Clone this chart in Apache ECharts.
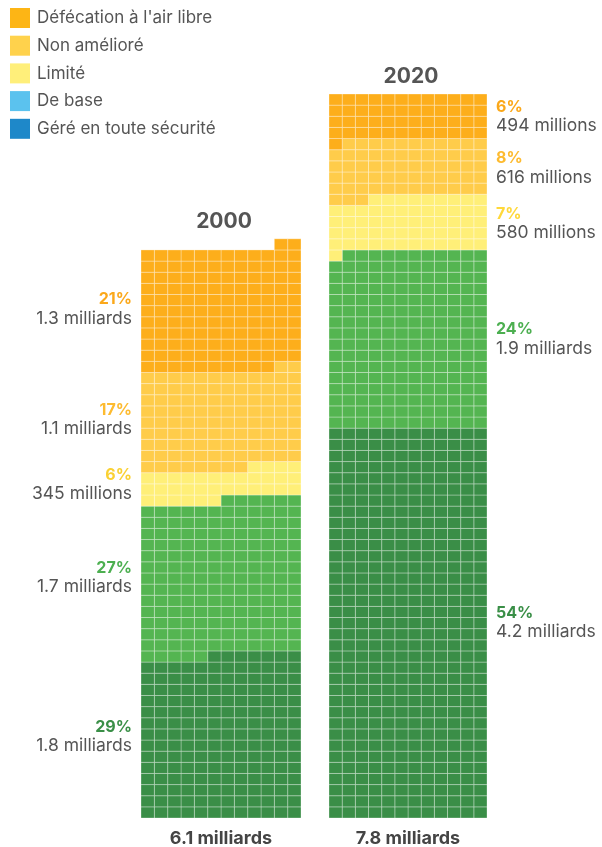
<!DOCTYPE html>
<html><head><meta charset="utf-8">
<script src="https://cdn.jsdelivr.net/npm/echarts@6/dist/echarts.min.js"></script>
<style>html,body{margin:0;padding:0;background:#fff}#c{width:602px;height:847px}</style>
</head><body><div id="c"></div>
<script>
// One cell = 10 millions de personnes; 12 cells per row
const COLS = 12;
const years = ['2000', '2020'];
const totals = ['6.1 milliards', '7.8 milliards'];
// Bottom to top
const categories = ['Géré en toute sécurité', 'De base', 'Limité', 'Non amélioré', "Défécation à l'air libre"];
const cells2000 = [175, 167, 34, 106, 132];
const cells2020 = [420, 191, 58, 62, 49];
const pct2000 = ['29%', '27%', '6%', '17%', '21%'];
const pct2020 = ['54%', '24%', '7%', '8%', '6%'];
const people2000 = ['1.8 milliards', '1.7 milliards', '345 millions', '1.1 milliards', '1.3 milliards'];
const people2020 = ['4.2 milliards', '1.9 milliards', '580 millions', '616 millions', '494 millions'];
// Legend (top to bottom)
const legendNames = ["Défécation à l'air libre", 'Non amélioré', 'Limité', 'De base', 'Géré en toute sécurité'];
const legendColors = ['#FDB515', '#FFD24C', '#FFEF7A', '#5BC2EE', '#1E88C9'];

const cellColors = ['#3A8E47', '#54B551', '#FFEF78', '#FFCC4A', '#FDAE1B'];
const pctColors = [['#3A8F47', '#4CAF50', '#FAD133', '#FDBB30', '#FBA81A'],
                   ['#3A8F47', '#4CAF50', '#FFD83A', '#FDBB30', '#FBA81A']];
const FONT = 'Inter, "Noto Sans", sans-serif';
const TEXT = '#555555';

const allCounts = [cells2000, cells2020];
const allPct = [pct2000, pct2020];
const allPeople = [people2000, people2020];
const sum = a => a.reduce((s, v) => s + v, 0);
const maxRows = Math.max(...allCounts.map(c => Math.ceil(sum(c) / COLS)));

function buildCells(counts) {
  const out = []; let i = 0;
  counts.forEach((n, k) => { for (let j = 0; j < n; j++, i++) out.push([COLS - 1 - (i % COLS), Math.floor(i / COLS), k]); });
  return out;
}
function buildLabels(counts, xAnchor) {
  const out = []; let s = 0;
  counts.forEach((n, k) => { out.push([xAnchor, (s + n / 2) / COLS, k]); s += n; });
  return out;
}

const grids = [
  { left: 141, width: 160, top: 94, height: 724 },
  { left: 329, width: 158, top: 94, height: 724 }
];

const series = [];
[0, 1].forEach(g => {
  series.push({
    type: 'custom', xAxisIndex: g, yAxisIndex: g, silent: true,
    data: buildCells(allCounts[g]),
    renderItem: (params, api) => {
      const c = api.value(0), r = api.value(1), k = api.value(2);
      const p0 = api.coord([c, r + 1]);
      const p1 = api.coord([c + 1, r]);
      return { type: 'rect', shape: { x: p0[0], y: p0[1], width: p1[0] - p0[0], height: p1[1] - p0[1] },
        style: { fill: cellColors[k], stroke: 'rgba(255,255,255,0.3)', lineWidth: 1 } };
    }
  });
  const right = g === 0;
  series.push({
    type: 'custom', xAxisIndex: g, yAxisIndex: g, silent: true,
    data: buildLabels(allCounts[g], right ? 0 : COLS),
    renderItem: (params, api) => {
      const k = api.value(2);
      const p = api.coord([api.value(0), api.value(1)]);
      const x = p[0] + (right ? -9 : 9);
      const align = right ? 'right' : 'left';
      return { type: 'group', children: [
        { type: 'text', x: x, y: p[1] - 10, style: { text: allPct[g][k], fill: pctColors[g][k], font: 'bold 16px ' + FONT, align: align, verticalAlign: 'middle' } },
        { type: 'text', x: x, y: p[1] + 9, style: { text: allPeople[g][k], fill: TEXT, font: '17.5px ' + FONT, align: align, verticalAlign: 'middle' } }
      ] };
    }
  });
  series.push({
    type: 'custom', xAxisIndex: g, yAxisIndex: g, silent: true,
    data: [[COLS / 2, Math.ceil(sum(allCounts[g]) / COLS)]],
    renderItem: (params, api) => {
      const top = api.coord([api.value(0), api.value(1)]);
      const bot = api.coord([api.value(0), 0]);
      return { type: 'group', children: [
        { type: 'text', x: top[0] + 3, y: top[1] - 17, style: { text: years[g], fill: TEXT, font: 'bold 21px ' + FONT, align: 'center', verticalAlign: 'middle' } },
        { type: 'text', x: bot[0], y: bot[1] + 21, style: { text: totals[g], fill: '#444', font: 'bold 18px ' + FONT, align: 'center', verticalAlign: 'middle' } }
      ] };
    }
  });
});
legendNames.forEach((name, i) => {
  series.push({ type: 'custom', name: name, data: [], xAxisIndex: 0, yAxisIndex: 0,
    itemStyle: { color: legendColors[i] }, renderItem: () => null });
});

const chart = echarts.init(document.getElementById('c'), null, { renderer: 'canvas' });
chart.setOption({
  backgroundColor: '#fff',
  animation: false,
  legend: {
    data: legendNames, orient: 'vertical', left: 5, top: 3, itemWidth: 20, itemHeight: 20, itemGap: 7.7,
    icon: 'rect', selectedMode: false,
    textStyle: { fontFamily: FONT, fontSize: 17, color: TEXT, padding: [0, 0, 0, 2] }
  },
  grid: grids,
  xAxis: grids.map((_, i) => ({ type: 'value', gridIndex: i, min: 0, max: COLS, show: false })),
  yAxis: grids.map((_, i) => ({ type: 'value', gridIndex: i, min: 0, max: maxRows, show: false })),
  series: series
});
</script></body></html>
